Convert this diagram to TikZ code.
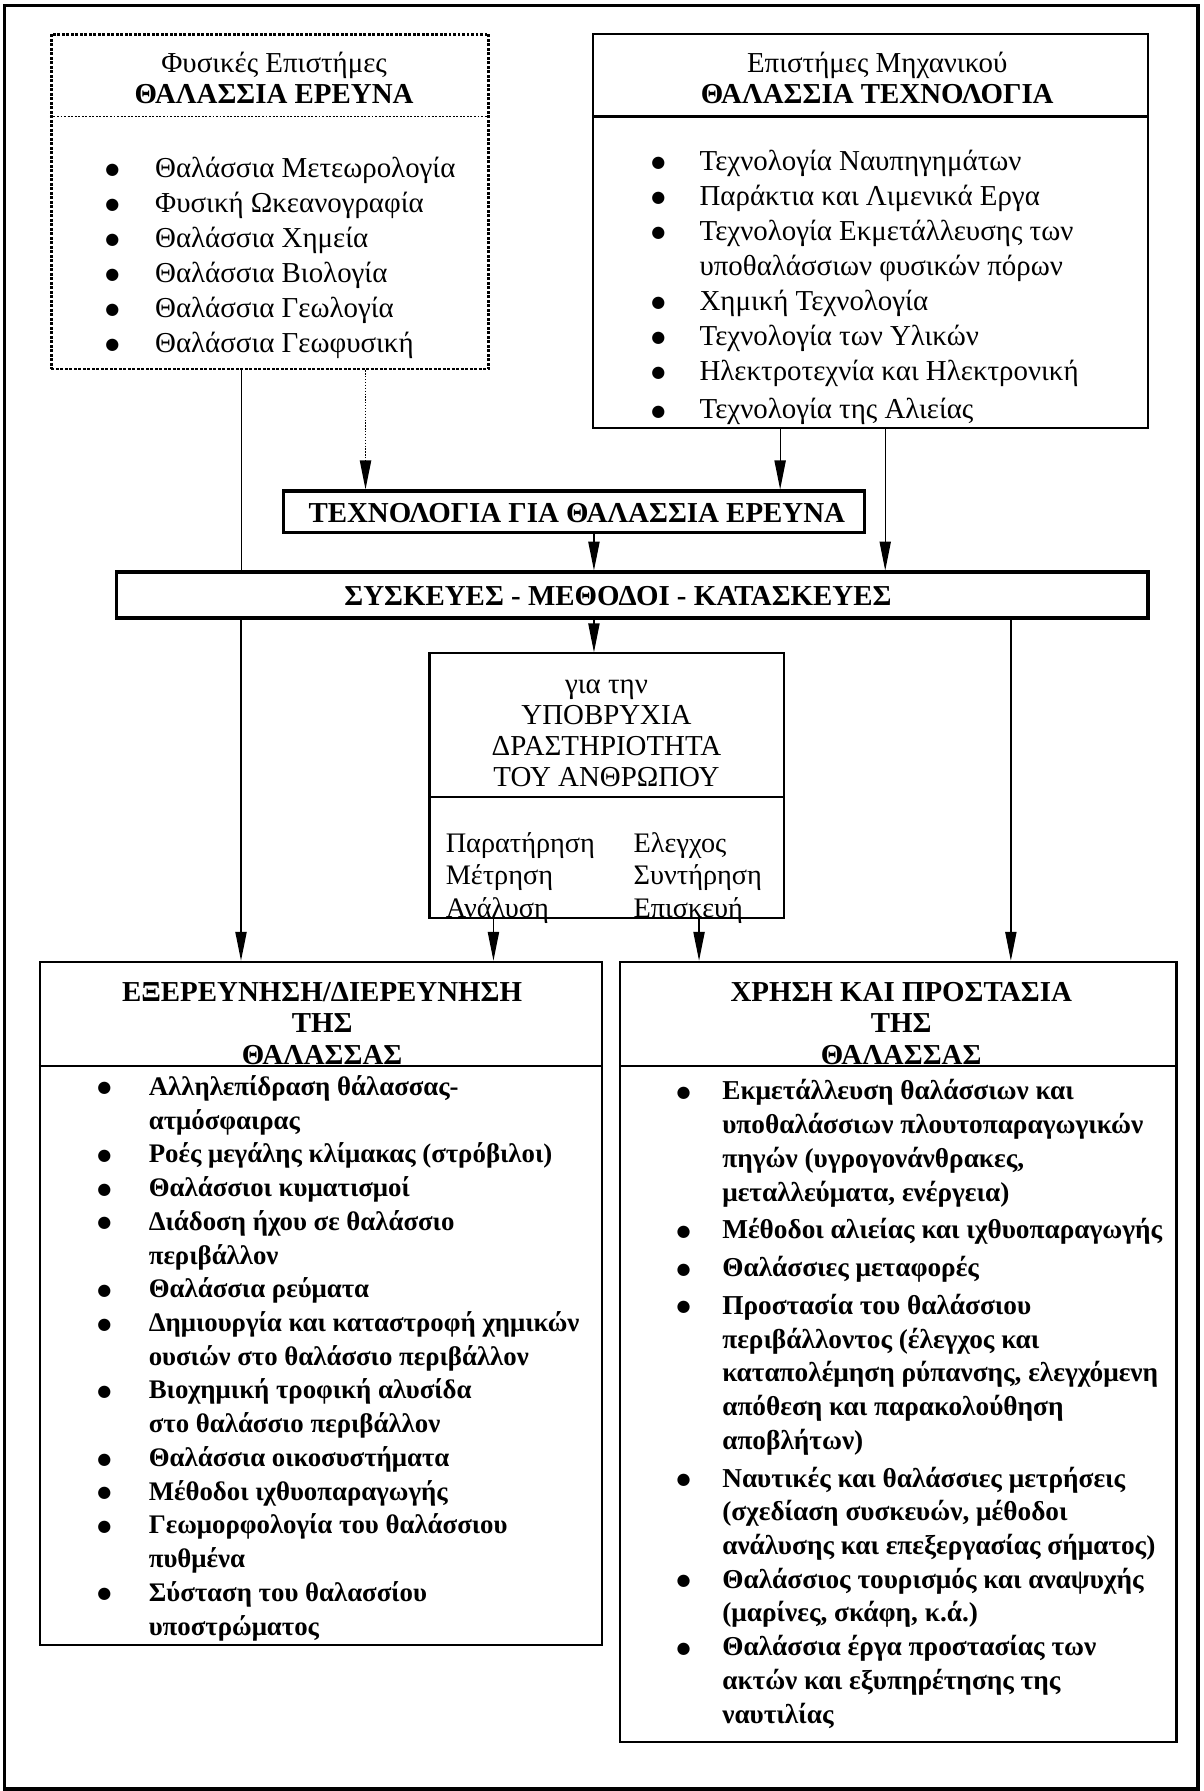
\documentclass[tikz,border=0pt]{standalone}
\usepackage{fontspec}
\setmainfont{Liberation Serif}
\newfontfamily\dotfont{DejaVu Sans}
\usetikzlibrary{arrows.meta,fit}
\newcommand{\bull}{\raisebox{1.5pt}{\dotfont\fontsize{10}{10}\selectfont ●}}

\begin{document}
\begin{tikzpicture}[x=0.025cm, y=-0.025cm,
  box/.style={draw, line width=1.3pt, inner sep=0pt},
  dotbox/.style={draw, densely dotted, line width=1.8pt, inner sep=0pt},
  barbox/.style={draw, line width=2.2pt, inner sep=0pt},
  bartext/.style={inner sep=0pt, font=\fontsize{18}{20}\selectfont\bfseries},
  head/.style={align=center, inner sep=0pt, font=\fontsize{18}{19.2}\selectfont},
  items/.style={anchor=base west, inner sep=0pt, font=\fontsize{18}{21.8}\selectfont},
  link/.style={line width=0.8pt, -{Triangle[length=18pt,width=7pt]}}]

\useasboundingbox (0,0) rectangle (1054,1568);
\draw[line width=2.2pt] (4,5) rectangle (1049,1566);

% physical sciences
\node[dotbox, fit={(45,30) (428,323)}] (phys) {};
\draw[densely dotted, line width=1.2pt] (phys.west |- 0,102) -- (phys.east |- 0,102);
\node[head] (physhead) at (240,68) {Φυσικές Επιστήμες\\\textbf{ΘΑΛΑΣΣΙΑ ΕΡΕΥΝΑ}};
\node[items] (physlist) at (92,155) {\begin{tabular}[t]{@{}p{31pt}@{}l@{}}
\bull & Θαλάσσια Μετεωρολογία\\
\bull & Φυσική Ωκεανογραφία\\
\bull & Θαλάσσια Χημεία\\
\bull & Θαλάσσια Βιολογία\\
\bull & Θαλάσσια Γεωλογία\\
\bull & Θαλάσσια Γεωφυσική
\end{tabular}};

% engineering
\node[box, fit={(519,30) (1005,375)}] (eng) {};
\draw[line width=1.3pt] (eng.west |- 0,102) -- (eng.east |- 0,102);
\node[head] (enghead) at (768,68) {Επιστήμες Μηχανικού\\\textbf{ΘΑΛΑΣΣΙΑ ΤΕΧΝΟΛΟΓΙΑ}};
\node[items] (englist) at (570,149) {\begin{tabular}[t]{@{}p{30pt}@{}l@{}}
\bull & Τεχνολογία Ναυπηγημάτων\\
\bull & Παράκτια και Λιμενικά Εργα\\
\bull & Τεχνολογία Εκμετάλλευσης των\\
  & υποθαλάσσιων φυσικών πόρων\\
\bull & Χημική Τεχνολογία\\
\bull & Τεχνολογία των Υλικών\\
\bull & Ηλεκτροτεχνία και Ηλεκτρονική\\[2pt]
\bull & Τεχνολογία της Αλιείας
\end{tabular}};

% bars
\node[barbox, fit={(248,430) (757,466)}] (techres) {};
\node[bartext] (techrestext) at (505,449) {ΤΕΧΝΟΛΟΓΙΑ ΓΙΑ ΘΑΛΑΣΣΙΑ ΕΡΕΥΝΑ};
\node[barbox, fit={(102,501) (1005,541)}] (devices) {};
\node[bartext] (devicestext) at (541,522) {ΣΥΣΚΕΥΕΣ - ΜΕΘΟΔΟΙ - ΚΑΤΑΣΚΕΥΕΣ};

% underwater activity
\node[box, fit={(376,572) (686,804)}] (under) {};
\draw[line width=1.3pt] (under.west |- 0,698) -- (under.east |- 0,698);
\node[head] (underhead) at (531,642) {για την\\ΥΠΟΒΡΥΧΙΑ\\ΔΡΑΣΤΗΡΙΟΤΗΤΑ\\ΤΟΥ ΑΝΘΡΩΠΟΥ};
\node[items, font=\fontsize{17.6}{20.3}\selectfont] (underlist) at (390,746) {\begin{tabular}[t]{@{}p{117pt}@{}l@{}}
Παρατήρηση & Ελεγχος\\
Μέτρηση & Συντήρηση\\
Ανάλυση & Επισκευή
\end{tabular}};

% exploration
\node[box, fit={(35,842) (527,1440)}] (expl) {};
\draw[line width=1.3pt] (expl.west |- 0,933) -- (expl.east |- 0,933);
\node[head, font=\fontsize{18}{19.5}\selectfont\bfseries] (explhead) at (282,896) {ΕΞΕΡΕΥΝΗΣΗ/ΔΙΕΡΕΥΝΗΣΗ\\ΤΗΣ\\ΘΑΛΑΣΣΑΣ};
\node[items, font=\fontsize{16.7}{21}\selectfont\bfseries] (expllist) at (85,959) {\begin{tabular}[t]{@{}p{32pt}@{}l@{}}
\bull & Αλληλεπίδραση θάλασσας-\\
  & ατμόσφαιρας\\
\bull & Ροές μεγάλης κλίμακας (στρόβιλοι)\\
\bull & Θαλάσσιοι κυματισμοί\\
\bull & Διάδοση ήχου σε θαλάσσιο\\
  & περιβάλλον\\
\bull & Θαλάσσια ρεύματα\\
\bull & Δημιουργία και καταστροφή χημικών\\
  & ουσιών στο θαλάσσιο περιβάλλον\\
\bull & Βιοχημική τροφική αλυσίδα\\
  & στο θαλάσσιο περιβάλλον\\
\bull & Θαλάσσια οικοσυστήματα\\
\bull & Μέθοδοι ιχθυοπαραγωγής\\
\bull & Γεωμορφολογία του θαλάσσιου\\
  & πυθμένα\\
\bull & Σύσταση του θαλασσίου\\
  & υποστρώματος
\end{tabular}};

% use and protection
\node[box, fit={(543,842) (1030,1525)}] (use) {};
\draw[line width=1.3pt] (use.west |- 0,933) -- (use.east |- 0,933);
\node[head, font=\fontsize{18}{19.5}\selectfont\bfseries] (usehead) at (789,896) {ΧΡΗΣΗ ΚΑΙ ΠΡΟΣΤΑΣΙΑ\\ΤΗΣ\\ΘΑΛΑΣΣΑΣ};
\node[items, font=\fontsize{17}{21}\selectfont\bfseries] (uselist) at (592,963) {\begin{tabular}[t]{@{}p{28.5pt}@{}l@{}}
\bull & Εκμετάλλευση θαλάσσιων και\\
  & υποθαλάσσιων πλουτοπαραγωγικών\\
  & πηγών (υγρογονάνθρακες,\\
  & μεταλλεύματα, ενέργεια)\\[2.5pt]
\bull & Μέθοδοι αλιείας και ιχθυοπαραγωγής\\[2.5pt]
\bull & Θαλάσσιες μεταφορές\\[2.5pt]
\bull & Προστασία του θαλάσσιου\\
  & περιβάλλοντος (έλεγχος και\\
  & καταπολέμηση ρύπανσης, ελεγχόμενη\\
  & απόθεση και παρακολούθηση\\
  & αποβλήτων)\\[2.5pt]
\bull & Ναυτικές και θαλάσσιες μετρήσεις\\
  & (σχεδίαση συσκευών, μέθοδοι\\
  & ανάλυσης και επεξεργασίας σήματος)\\
\bull & Θαλάσσιος τουρισμός και αναψυχής\\
  & (μαρίνες, σκάφη, κ.ά.)\\
\bull & Θαλάσσια έργα προστασίας των\\
  & ακτών και εξυπηρέτησης της\\
  & ναυτιλίας
\end{tabular}};

% connectors
\draw[line width=0.6pt] (phys.south -| 211,0) -- (devices.north -| 211,0);
\draw[link, densely dotted] (phys.south -| 320,0) -- (techres.north -| 320,0);
\draw[link] (eng.south -| 683,0) -- (techres.north -| 683,0);
\draw[link] (eng.south -| 775,0) -- (devices.north -| 775,0);
\draw[link] (techres.south -| 520,0) -- (devices.north -| 520,0);
\draw[link] (devices.south -| 520,0) -- (under.north -| 520,0);
\draw[link] (devices.south -| 211,0) -- (expl.north -| 211,0);
\draw[link] (devices.south -| 885,0) -- (use.north -| 885,0);
\draw[link] (under.south -| 432,0) -- (expl.north -| 432,0);
\draw[link] (under.south -| 612,0) -- (use.north -| 612,0);
\end{tikzpicture}
\end{document}
